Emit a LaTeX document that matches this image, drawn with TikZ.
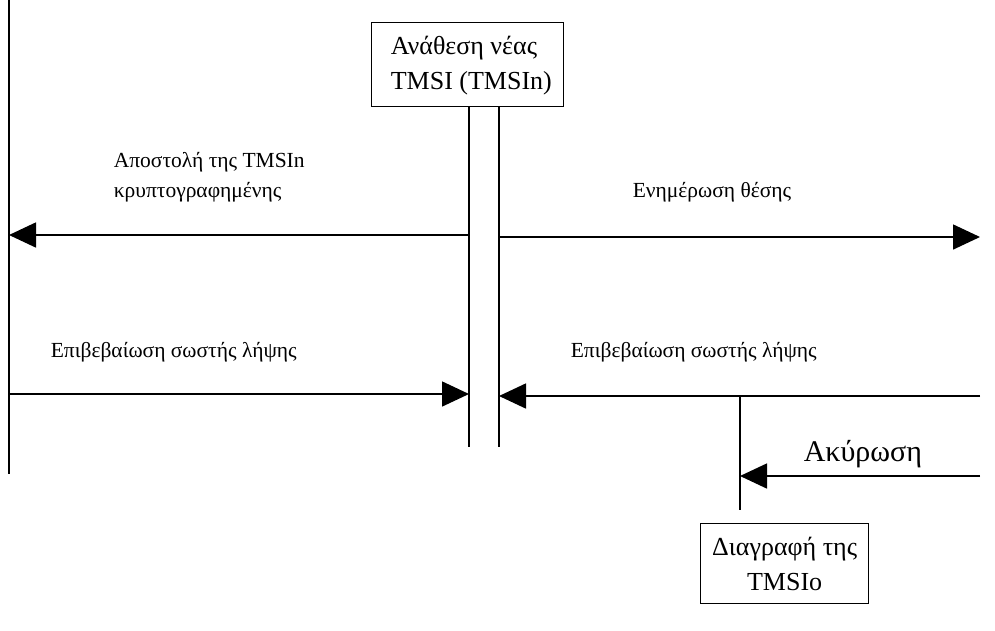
\documentclass[tikz,border=0pt]{standalone}
\usepackage{fontspec}
\setmainfont{Liberation Serif}
\usetikzlibrary{arrows.meta}
\begin{document}
\begin{tikzpicture}[x=1pt,y=-1pt,
  line width=1.6pt,
  conn/.style={-{Triangle[length=27pt,width=25pt]}},
  procbox/.style={draw,line width=1.3pt,inner sep=0pt},
  biglabel/.style={font=\fontsize{26}{35}\selectfont,inner sep=0pt},
  smalllabel/.style={font=\fontsize{21.5}{30}\selectfont,inner sep=0pt,anchor=base west,align=left}]
\useasboundingbox (0,0) rectangle (995,630);

% boxes
\node[procbox,minimum width=192pt,minimum height=84pt,anchor=north west] (assign) at (371,22) {};
\node[biglabel,anchor=north west,align=left] (assigntxt) at (390,35) {Ανάθεση νέας\\TMSI (TMSIn)};
\node[procbox,minimum width=168pt,minimum height=80pt,anchor=north west] (del) at (700,523) {};
\node[biglabel,align=center] (deltxt) at (del.center) {Διαγραφή της\\TMSIo};

% lifelines
\coordinate (ltop) at (9,0);
\coordinate (lbot) at (9,474);
\draw (ltop) -- (lbot);
\coordinate (sAtop) at (469,106);
\coordinate (sAbot) at (469,447);
\coordinate (sBtop) at (499,106);
\coordinate (sBbot) at (499,447);
\draw (sAtop) -- (sAbot);
\draw (sBtop) -- (sBbot);
\coordinate (vtop) at (740,396);
\coordinate (vbot) at (740,510);
\draw (vtop) -- (vbot);

% message ends
\coordinate (m1s) at (469,235);
\coordinate (m1e) at (9,235);
\coordinate (m2s) at (499,237);
\coordinate (m2e) at (980,237);
\coordinate (m3s) at (9,394);
\coordinate (m3e) at (469,394);
\coordinate (m4s) at (980,396);
\coordinate (m4e) at (499,396);
\coordinate (m5s) at (980,476);
\coordinate (m5e) at (740,476);
\coordinate (m5k) at (950,476);

\draw[conn] (m1s) -- (m1e);
\draw[conn] (m2s) -- (m2e);
\draw[conn] (m3s) -- (m3e);
\draw[conn] (m4s) -- (m4e);
\draw[conn] (m5s) -- (m5e);
\draw[line width=2.6pt] (m5k) -- (m5s);

% labels (base anchor of a two-line label is its last line)
\node[smalllabel] (l1) at (113,197) {Αποστολή της TMSIn\\κρυπτογραφημένης};
\node[smalllabel] (l2) at (632,197) {Ενημέρωση θέσης};
\node[smalllabel] (l3) at (50,357) {Επιβεβαίωση σωστής λήψης};
\node[smalllabel] (l4) at (570,357) {Επιβεβαίωση σωστής λήψης};
\node[font=\fontsize{30}{36}\selectfont,inner sep=0pt,anchor=base west] (l5) at (803,461) {Ακύρωση};
\end{tikzpicture}
\end{document}
